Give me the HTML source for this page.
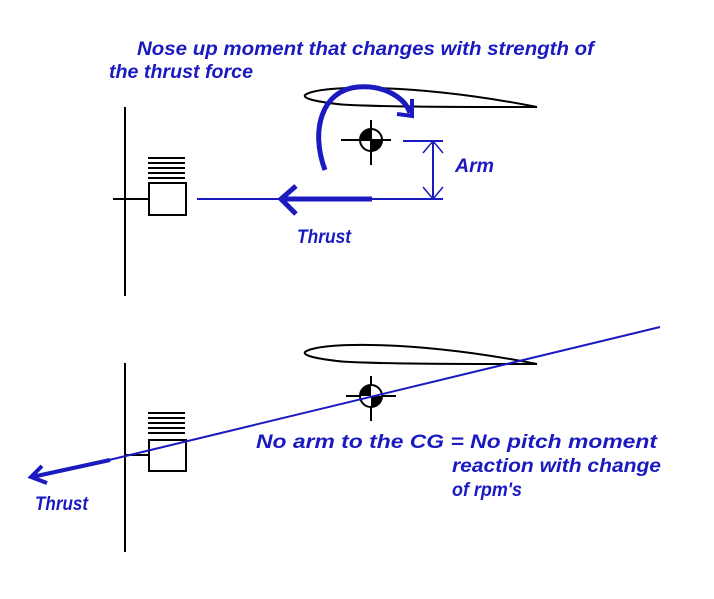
<!DOCTYPE html>
<html><head><meta charset="utf-8"><style>
html,body{margin:0;padding:0;background:#fff;}
svg{display:block;}
text{font-family:"Liberation Sans",sans-serif;font-style:italic;font-weight:bold;fill:#1a1ac0;font-size:19px;}
</style></head><body>
<svg width="714" height="599" viewBox="0 0 714 599" xmlns="http://www.w3.org/2000/svg">
<rect width="714" height="599" fill="#fff"/>
<!-- TOP -->
<text x="137" y="55" textLength="457" lengthAdjust="spacingAndGlyphs">Nose up moment that changes with strength of</text>
<text x="109" y="78" textLength="144" lengthAdjust="spacingAndGlyphs">the thrust force</text>
<g stroke="#000" stroke-width="2" fill="none">
<line x1="125" y1="107" x2="125" y2="296"/>
<line x1="113" y1="199" x2="150" y2="199"/>
<rect x="149" y="183" width="37" height="32"/>
<line x1="148" y1="158" x2="185" y2="158"/>
<line x1="148" y1="163" x2="185" y2="163"/>
<line x1="148" y1="168" x2="185" y2="168"/>
<line x1="148" y1="173" x2="185" y2="173"/>
<line x1="148" y1="178" x2="185" y2="178"/>
<path d="M305,95 C320,84 420,84 537,107 C470,107 360,107 337,104 C312,101 303,98 305,95 Z"/>
<line x1="341" y1="140" x2="391" y2="140"/>
<line x1="371" y1="120" x2="371" y2="165"/>
<circle cx="371" cy="140" r="11" fill="#fff"/>
</g>
<path d="M371,140 L360,140 A11,11 0 0 1 371,129 Z M371,140 L382,140 A11,11 0 0 1 371,151 Z" fill="#000"/>
<line x1="360" y1="140" x2="382" y2="140" stroke="#000" stroke-width="2"/>
<line x1="371" y1="129" x2="371" y2="151" stroke="#000" stroke-width="2"/>
<g stroke="#1a1ac0" fill="none">
<line x1="197" y1="199" x2="443" y2="199" stroke-width="2"/>
<line x1="282" y1="199" x2="372" y2="199" stroke-width="5"/>
<polyline points="296,186 281,199 296,214" stroke-width="5"/>
<line x1="403" y1="141" x2="443" y2="141" stroke-width="2"/>
<line x1="433" y1="141" x2="433" y2="199" stroke-width="2"/>
<polyline points="423,153 433,141 443,153" stroke-width="1.5"/>
<polyline points="423,187 433,199 443,187" stroke-width="1.5"/>
<path d="M325,170 C310,130 322,90 358,87 C385,85 405,98 410,113" stroke-width="5"/>
<polyline points="412,99 412,116 397,114" stroke-width="4"/>
</g>
<text x="455" y="172" textLength="39" lengthAdjust="spacingAndGlyphs">Arm</text>
<text x="297" y="243" textLength="54" lengthAdjust="spacingAndGlyphs">Thrust</text>
<!-- BOTTOM -->
<g stroke="#000" stroke-width="2" fill="none">
<line x1="125" y1="363" x2="125" y2="552"/>
<line x1="125" y1="455" x2="150" y2="455"/>
<rect x="149" y="440" width="37" height="31"/>
<line x1="148" y1="413" x2="185" y2="413"/>
<line x1="148" y1="418" x2="185" y2="418"/>
<line x1="148" y1="423" x2="185" y2="423"/>
<line x1="148" y1="428" x2="185" y2="428"/>
<line x1="148" y1="433" x2="185" y2="433"/>
<path d="M305,352 C320,341 420,341 537,364 C470,364 360,364 337,361 C312,358 303,355 305,352 Z"/>
<line x1="346" y1="396" x2="396" y2="396"/>
<line x1="371" y1="376" x2="371" y2="421"/>
<circle cx="371" cy="396" r="11" fill="#fff"/>
</g>
<path d="M371,396 L360,396 A11,11 0 0 1 371,385 Z M371,396 L382,396 A11,11 0 0 1 371,407 Z" fill="#000"/>
<g stroke="#1a1ac0" fill="none">
<line x1="660" y1="327" x2="105" y2="461" stroke-width="2"/>
<line x1="110" y1="460" x2="32" y2="477" stroke-width="4"/>
<polyline points="42,466 31,477 47,483" stroke-width="4"/>
</g>
<text x="256" y="448" textLength="401" lengthAdjust="spacingAndGlyphs">No arm to the CG = No pitch moment</text>
<text x="452" y="472" textLength="209" lengthAdjust="spacingAndGlyphs">reaction with change</text>
<text x="452" y="496" textLength="70" lengthAdjust="spacingAndGlyphs">of rpm's</text>
<text x="35" y="510" textLength="53" lengthAdjust="spacingAndGlyphs">Thrust</text>
</svg>
</body></html>
